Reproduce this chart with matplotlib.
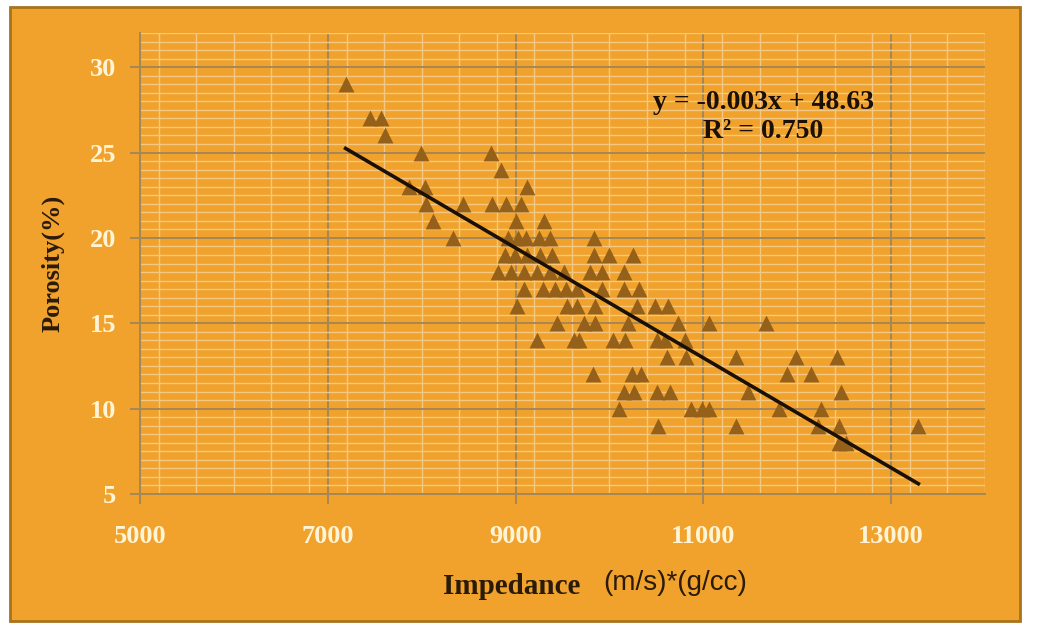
import matplotlib.pyplot as plt
import numpy as np
from matplotlib.patches import Rectangle
from matplotlib.ticker import MultipleLocator

# porosity (%) -> impedance values, one list per porosity level
porosity_levels = [29, 27, 26, 25, 24, 23, 22, 21, 20, 19, 18, 17, 16, 15, 14, 13, 12, 11, 10, 9, 8]
impedance_by_level = [
    [7190],
    [7455, 7570],
    [7614],
    [7995, 8740],
    [8841],
    [7860, 8040, 9127],
    [8050, 8435, 8750, 8900, 9053],
    [8122, 9000, 9307],
    [8333, 8915, 9021, 9106, 9254, 9370, 9836],
    [8884, 8989, 9127, 9265, 9392, 9836, 9995, 10250],
    [8810, 8947, 9095, 9233, 9370, 9519, 9794, 9921, 10153],
    [9095, 9290, 9420, 9540, 9650, 9921, 10153, 10312],
    [9020, 9545, 9650, 9847, 10290, 10480, 10620],
    [9444, 9730, 9847, 10200, 10735, 11063, 11670],
    [9233, 9620, 9680, 10040, 10170, 10510, 10590, 10810],
    [10610, 10820, 11350, 11985, 12420],
    [9825, 10238, 10333, 11890, 12143],
    [10150, 10260, 10510, 10640, 11480, 12470],
    [10100, 10870, 10990, 11060, 11810, 12250],
    [10513, 11349, 12220, 12440, 13290],
    [12440, 12520],
]
x_ticks = [5000, 7000, 9000, 11000, 13000]
y_ticks = [5, 10, 15, 20, 25, 30]

impedance = np.array([v for row in impedance_by_level for v in row], dtype=float)
porosity = np.array([p for p, row in zip(porosity_levels, impedance_by_level) for _ in row], dtype=float)

# kolory
orange = '#F0A22C'
brown = '#956019'
grid_major = '#A48757'
grid_minor = '#F4C883'
label_col = '#FFF4D6'

fig = plt.figure(figsize=(10.37, 6.27), dpi=100, facecolor='white')
fig.patches.append(Rectangle((10 / 1037, 6 / 627), 1010 / 1037, 614 / 627,
                             transform=fig.transFigure, facecolor=orange,
                             edgecolor='#A8731C', linewidth=2, zorder=-10))

ax = fig.add_axes([140 / 1037, 1 - 494 / 627, 845 / 1037, 461 / 627])
ax.set_facecolor(orange)

ax.scatter(impedance, porosity, marker='^', s=130, color=brown, linewidths=0, zorder=3)

# linia trendu
a, b = np.polyfit(impedance, porosity, 1)
xs = np.array([impedance.min(), impedance.max()])
ax.plot(xs, a * xs + b, color='#1A1008', linewidth=2.6, zorder=4)

ax.set_xlim(5000, 14000)
ax.set_ylim(5, 32)
ax.set_xticks(x_ticks)
ax.set_yticks(y_ticks)
ax.xaxis.set_minor_locator(MultipleLocator(400))
ax.yaxis.set_minor_locator(MultipleLocator(0.5))
ax.grid(True, which='minor', color=grid_minor, linewidth=1.0, zorder=1)
ax.grid(True, which='major', color=grid_major, linewidth=1.4, zorder=2)
ax.set_axisbelow(True)

for s in ['top', 'right']:
    ax.spines[s].set_visible(False)
for s in ['left', 'bottom']:
    ax.spines[s].set_color(grid_major)
    ax.spines[s].set_linewidth(1.4)

ax.tick_params(which='major', direction='out', length=7, color=grid_major, width=1.4,
               labelcolor=label_col, labelsize=19)
ax.tick_params(axis='x', which='major', pad=15)
ax.tick_params(axis='y', which='major', pad=10)
ax.tick_params(which='minor', length=0)
for lab in ax.get_xticklabels() + ax.get_yticklabels():
    lab.set_fontfamily('Liberation Serif')
    lab.set_fontweight('bold')

ax.set_ylabel('Porosity(%)', fontfamily='Liberation Serif', fontweight='bold',
              fontsize=19, color='#2A1A08', labelpad=18)

fig.text(443 / 1037, 1 - 587 / 627, 'Impedance', fontfamily='Liberation Serif',
         fontweight='bold', fontsize=21, color='#2A1A08', va='center', ha='left')
fig.text(603 / 1037, 1 - 583 / 627, '(m/s)*(g/cc)', fontfamily='Liberation Sans',
         fontsize=20, color='#2A1A08', va='center', ha='left')

ax.text(0.738, 0.818, 'y = -0.003x + 48.63\nR\u00b2 = 0.750', transform=ax.transAxes,
        fontfamily='Liberation Serif', fontweight='bold', fontsize=20,
        color='#1A1008', ha='center', va='center', linespacing=1.25)

fig.savefig('out.png', dpi=100, facecolor=fig.get_facecolor())
